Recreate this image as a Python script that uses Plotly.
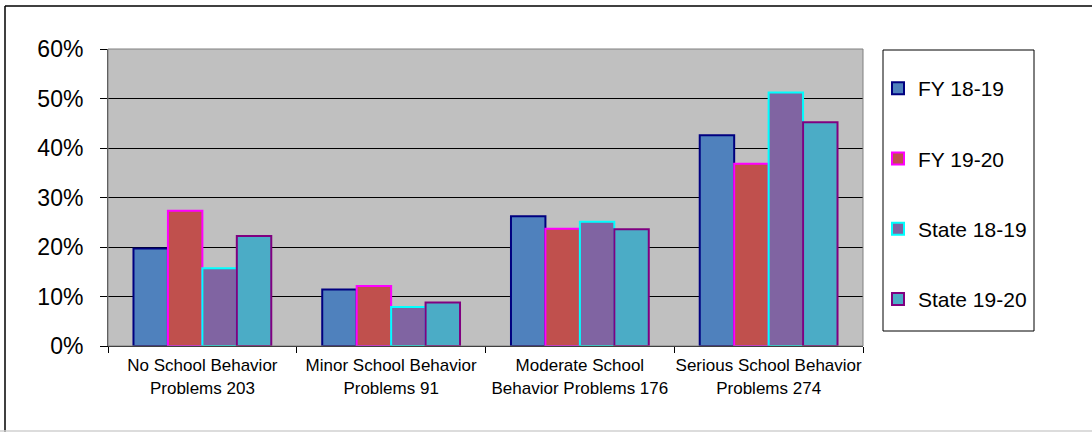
import plotly.graph_objects as go

categories = [
    "No School Behavior<br>Problems 203",
    "Minor School Behavior<br>Problems 91",
    "Moderate School<br>Behavior Problems 176",
    "Serious School Behavior<br>Problems 274",
]

fy_18_19 = [19.7, 11.4, 26.2, 42.6]
fy_19_20 = [27.3, 12.1, 23.7, 36.8]
state_18_19 = [15.7, 7.9, 25.1, 51.2]
state_19_20 = [22.2, 8.8, 23.6, 45.2]

series = [
    ("FY 18-19", fy_18_19, "#4F81BD", "#000080"),
    ("FY 19-20", fy_19_20, "#C0504D", "#FF00FF"),
    ("State 18-19", state_18_19, "#8064A2", "#00FFFF"),
    ("State 19-20", state_19_20, "#4BACC6", "#800080"),
]

W, H = 1092, 432
L, R, T, B = 108, 229, 49, 86
pw, ph = W - L - R, H - T - B


def px_x(p):
    return (p - L) / pw


def px_y(p):
    return (H - B - p) / ph


fig = go.Figure()
for i, (name, vals, fill, edge) in enumerate(series):
    fig.add_trace(
        go.Bar(
            x=categories,
            y=vals,
            name=name,
            legendgroup=str(i),
            marker=dict(color=fill, line=dict(color=edge, width=2)),
        )
    )

font = "Arial, Liberation Sans, sans-serif"

shapes = [
    # plot area border (gray)
    dict(type="rect", xref="paper", yref="paper", x0=0, x1=1, y0=0, y1=1,
         line=dict(color="#808080", width=1), layer="above"),
    # legend box
    dict(type="rect", xref="paper", yref="paper",
         x0=px_x(883), x1=px_x(1034), y0=px_y(331), y1=px_y(50),
         line=dict(color="#000000", width=1)),
    # outer frame (cropped: top and left black, bottom light gray)
    dict(type="line", xref="paper", yref="paper",
         x0=px_x(5), x1=px_x(1092), y0=px_y(6), y1=px_y(6),
         line=dict(color="#000000", width=1.5)),
    dict(type="line", xref="paper", yref="paper",
         x0=px_x(5), x1=px_x(5), y0=px_y(6), y1=px_y(432),
         line=dict(color="#000000", width=1.5)),
    dict(type="line", xref="paper", yref="paper",
         x0=px_x(0), x1=px_x(1092), y0=px_y(431), y1=px_y(431),
         line=dict(color="#D0D0D0", width=1.5)),
]

fig.update_layout(
    width=W,
    height=H,
    margin=dict(l=L, r=R, t=T, b=B, pad=0, autoexpand=False),
    paper_bgcolor="#FFFFFF",
    plot_bgcolor="#C0C0C0",
    barmode="group",
    bargap=0.27,
    bargroupgap=0,
    font=dict(family=font, color="#000000"),
    showlegend=True,
    legend=dict(
        x=px_x(878),
        y=px_y(68),
        xanchor="left",
        yanchor="top",
        bgcolor="rgba(0,0,0,0)",
        borderwidth=0,
        font=dict(family=font, size=21, color="#000000"),
        tracegroupgap=40,
        itemwidth=30,
    ),
    xaxis=dict(
        type="category",
        automargin=False,
        tickangle=0,
        showgrid=False,
        showline=True,
        linecolor="#000000",
        linewidth=1,
        ticks="outside",
        tickson="boundaries",
        ticklen=6,
        tickcolor="#000000",
        ticklabelstandoff=4,
        tickfont=dict(family=font, size=17, color="#000000"),
    ),
    yaxis=dict(
        automargin=False,
        range=[0, 60],
        dtick=10,
        ticksuffix="%",
        showgrid=True,
        gridcolor="#000000",
        gridwidth=1,
        zeroline=False,
        showline=True,
        linecolor="#404040",
        linewidth=1,
        ticks="outside",
        ticklen=7,
        tickcolor="#000000",
        ticklabelstandoff=12,
        tickfont=dict(family=font, size=23, color="#000000"),
    ),
    shapes=shapes,
)

fig.write_html(
    "out.html",
    config={"displayModeBar": False},
    post_script="document.body.style.margin='0';",
)
